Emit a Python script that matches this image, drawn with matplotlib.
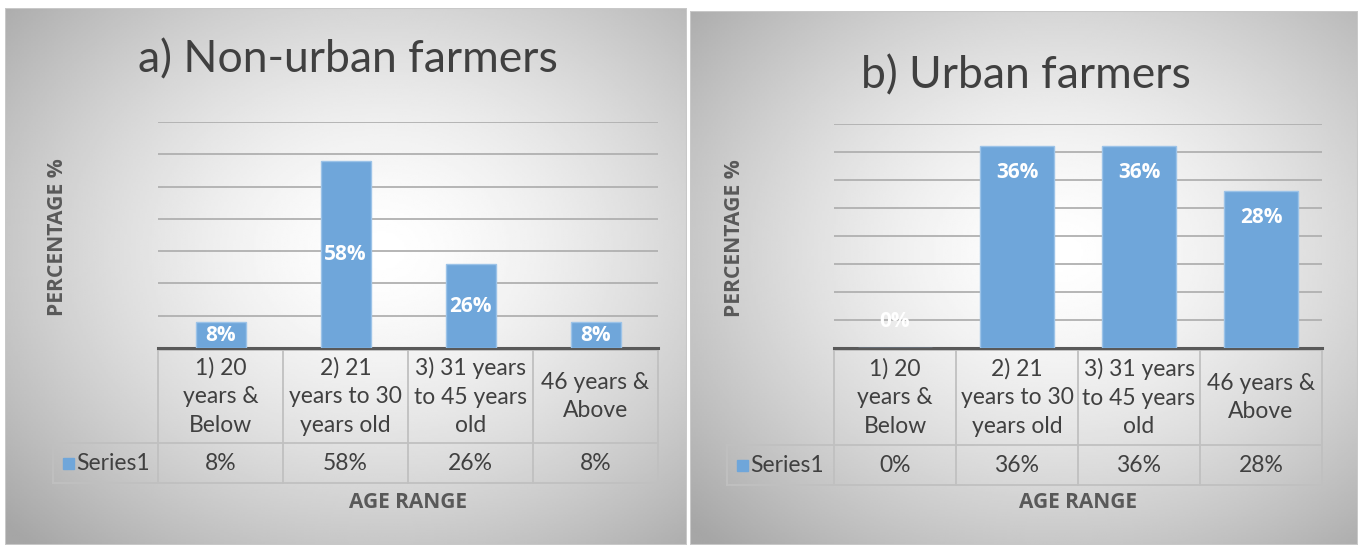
import numpy as np
from matplotlib import pyplot as plt
from matplotlib import transforms
from matplotlib.lines import Line2D
from matplotlib.patches import Rectangle

# figure size in pixels (dpi 100)
W, H = 1360, 545

# data
categories = ["1) 20\nyears &\nBelow",
              "2) 21\nyears to 30\nyears old",
              "3) 31 years\nto 45 years\nold",
              "46 years &\nAbove"]
series_name = "Series1"
non_urban = [8, 58, 26, 8]
urban = [0, 36, 36, 28]
titles = ["a) Non-urban farmers", "b) Urban farmers"]
y_label = "PERCENTAGE %"
x_label = "AGE RANGE"

BAR = "#6fa6da"
BAR_EDGE = "#9cc3e8"
TXT = "#404040"
GRID = "#b0b0b0"
TABLE = "#c0c0c0"
BOLD_FONT = ['Open Sans', 'DejaVu Sans']

plt.rcParams['font.family'] = ['Lato', 'DejaVu Sans']


def fx(x):
    return x / W


def fy(y):
    return 1 - y / H


def rect(x0, y0, x1, y1):
    """pixel box (top-left origin) -> figure fraction rect"""
    return [fx(x0), fy(y1), fx(x1) - fx(x0), fy(y0) - fy(y1)]


def draw_panel(fig, box, plot, lab_x, rows, values, ymax, step, width,
               title, title_y, ylab_x, xlab_y, label_mode):
    # background with a soft radial gradient
    bg = fig.add_axes(rect(*box), zorder=0)
    h, w = 300, 300
    yy, xx = np.mgrid[0:h, 0:w]
    r = np.sqrt(((xx - w * 0.55) / (w * 0.6)) ** 2 + ((yy - h * 0.45) / (h * 0.6)) ** 2)
    img = 1.0 - 0.25 * np.clip(r, 0, 1.25) ** 1.5
    bg.imshow(img, cmap="gray", vmin=0, vmax=1, aspect="auto", extent=[0, 1, 0, 1])
    bg.set_xlim(0, 1)
    bg.set_ylim(0, 1)
    bg.add_patch(Rectangle((0, 0), 1, 1, fill=False, ec="#c8c8c8", lw=1.5,
                           transform=bg.transAxes))
    bg.axis("off")

    ax = fig.add_axes(rect(*plot), zorder=2)
    ax.set_facecolor("none")
    x = np.arange(len(values))
    bars = ax.bar(x, values, width, color=BAR, edgecolor=BAR_EDGE, lw=1, zorder=3)
    ax.set_xlim(-0.5, len(values) - 0.5)
    ax.set_ylim(0, ymax)
    ax.set_yticks(np.arange(step, ymax + step, step))
    ax.grid(axis="y", color=GRID, lw=1.3, zorder=0)
    ax.tick_params(left=False, bottom=False, labelleft=False, labelbottom=False)
    for s in ["top", "left", "right"]:
        ax.spines[s].set_visible(False)
    ax.spines["bottom"].set_color("#595959")
    ax.spines["bottom"].set_linewidth(2.2)

    # data labels
    for b, v in zip(bars, values):
        cx = b.get_x() + b.get_width() / 2
        if label_mode == "center":
            ax.text(cx, v / 2, f"{v}%", ha="center", va="center", color="white",
                    fontsize=15, fontweight="bold", family=BOLD_FONT, zorder=4)
        else:
            off = -19 if v > 0 else 19
            ax.annotate(f"{v}%", (cx, v), xytext=(0, off), textcoords="offset points",
                        ha="center", va="center", color="white", fontsize=15,
                        fontweight="bold", family=BOLD_FONT, zorder=4)

    # data table under the axis
    tr = transforms.blended_transform_factory(ax.transData, fig.transFigure)
    top, mid, bot = rows
    edges = np.arange(len(values) + 1) - 0.5
    lw = 1.3
    left_data = ax.transData.inverted().transform((fig.transFigure.transform((fx(lab_x), 0))[0], 0))[0]
    for e in edges:
        fig.add_artist(Line2D([e, e], [fy(top), fy(bot)], transform=tr, color=TABLE, lw=lw))
    fig.add_artist(Line2D([left_data, left_data], [fy(mid), fy(bot)], transform=tr, color=TABLE, lw=lw))
    fig.add_artist(Line2D([edges[0], edges[-1]], [fy(top), fy(top)], transform=tr, color=TABLE, lw=lw))
    fig.add_artist(Line2D([left_data, edges[-1]], [fy(mid), fy(mid)], transform=tr, color=TABLE, lw=lw))
    fig.add_artist(Line2D([left_data, edges[-1]], [fy(bot), fy(bot)], transform=tr, color=TABLE, lw=lw))
    for i, (c, v) in enumerate(zip(categories, values)):
        fig.text(0, 0, c, transform=tr, ha="center", va="center", color=TXT,
                 fontsize=16.5, linespacing=1.45).set_position((i, fy((top + mid) / 2)))
        fig.text(0, 0, f"{v}%", transform=tr, ha="center", va="center", color=TXT,
                 fontsize=16.5).set_position((i, fy((mid + bot) / 2)))
    # legend key + series name
    fig.patches.append(Rectangle((fx(lab_x + 10), fy((mid + bot) / 2 + 6)), fx(11), fx(11) * W / H,
                                 transform=fig.transFigure, color=BAR, figure=fig))
    fig.text(fx(lab_x + 23), fy((mid + bot) / 2), series_name, ha="left", va="center",
             color=TXT, fontsize=16.5)

    # titles
    px0 = (plot[0] + plot[2]) / 2
    fig.text(fx((box[0] + box[2]) / 2 + 2), fy(title_y), title, ha="center", va="center",
             color=TXT, fontsize=32)
    fig.text(fx(ylab_x), fy((plot[1] + plot[3]) / 2 + 2), y_label, rotation=90,
             ha="center", va="center", color="#595959", fontsize=15.2,
             fontweight="bold", family=BOLD_FONT)
    fig.text(fx(px0), fy(xlab_y), x_label, ha="center", va="center",
             color="#595959", fontsize=15, fontweight="bold", family=BOLD_FONT)


fig = plt.figure(figsize=(W / 100, H / 100), dpi=100)
fig.patch.set_facecolor("white")

draw_panel(fig, (5, 8, 687, 545), (158, 122, 658, 348), 53, (350, 443, 483),
           non_urban, 70, 10, 0.4, titles[0], 60, 58, 502, "center")
draw_panel(fig, (690, 11, 1358, 545), (834, 124, 1322, 348), 727, (350, 445, 485),
           urban, 40, 5, 0.6, titles[1], 76, 735, 502, "end")

fig.savefig("out.png", dpi=100)
